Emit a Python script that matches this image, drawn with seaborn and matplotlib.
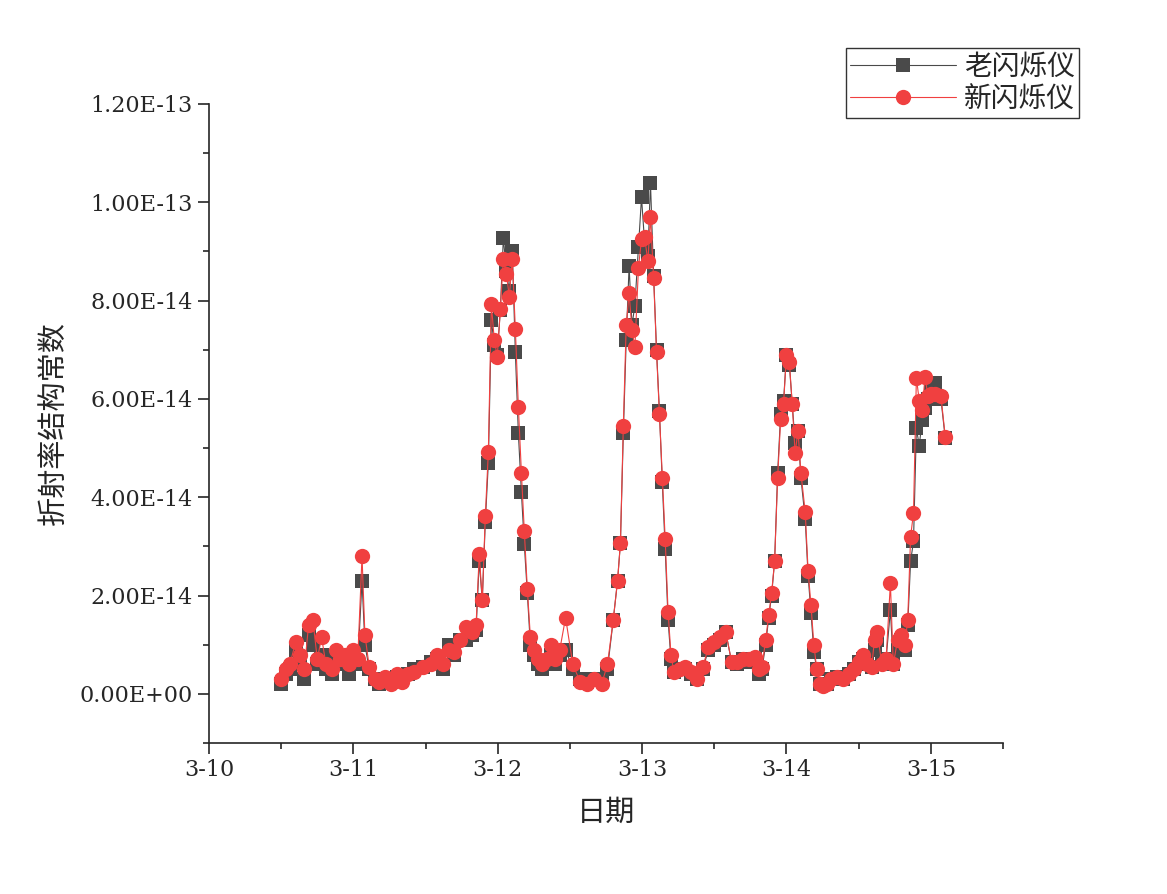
import matplotlib
matplotlib.use("Agg")
import matplotlib.pyplot as plt
import seaborn as sns
import pandas as pd
from matplotlib.ticker import MultipleLocator, FuncFormatter

# days since 3-10
days = [0.50,0.53,0.56,0.60,0.63,0.66,0.69,0.72,0.75,0.78,0.81,0.85,0.88,0.91,0.94,0.97,1.00,1.03,1.06,1.08,
        1.11,1.15,1.18,1.22,1.26,1.30,1.34,1.38,1.42,1.48,1.54,1.58,1.62,1.66,1.70,1.74,1.78,1.82,1.85,
        1.872,1.893,1.914,1.935,1.956,1.976,1.997,2.018,2.039,2.060,2.080,2.101,2.122,2.143,2.164,2.184,2.205,2.226,
        2.25,2.28,2.31,2.34,2.37,2.40,2.43,2.47,2.52,2.57,2.62,2.67,2.72,2.76,
        2.80,2.83,2.85,2.87,2.89,2.91,2.93,2.95,2.975,2.996,3.017,3.04,3.058,3.08,3.10,3.12,3.14,3.16,3.18,3.20,3.22,
        3.26,3.30,3.34,3.38,3.42,3.46,3.50,3.54,3.58,3.62,3.66,3.70,3.74,3.78,3.81,3.83,
        3.856,3.877,3.897,3.918,3.939,3.96,3.98,4.00,4.02,4.04,4.06,4.08,4.10,4.13,4.15,4.17,4.19,4.21,4.23,4.25,
        4.28,4.31,4.35,4.39,4.43,4.47,4.50,4.53,4.56,4.59,4.61,4.63,4.66,4.69,4.72,4.74,4.77,4.79,4.82,
        4.84,4.86,4.88,4.90,4.92,4.94,4.96,4.98,5.00,5.03,5.07,5.10]
old = [0.2,0.4,0.5,0.9,0.6,0.3,1.2,1.0,0.6,0.8,0.5,0.4,0.7,0.6,0.7,0.4,0.8,0.6,2.3,1.0,
       0.5,0.3,0.2,0.3,0.25,0.35,0.3,0.4,0.5,0.55,0.65,0.7,0.5,1.0,0.8,1.1,1.1,1.2,1.3,
       2.7,1.9,3.5,4.7,7.6,7.1,6.9,7.8,9.28,8.6,8.2,9.0,6.95,5.3,4.1,3.05,2.05,1.0,
       0.8,0.6,0.5,0.6,0.8,0.6,0.8,0.9,0.5,0.3,0.25,0.3,0.3,0.5,
       1.5,2.3,3.07,5.3,7.2,8.7,7.5,7.9,9.1,10.1,9.2,8.9,10.4,8.5,7.0,5.75,4.3,2.95,1.5,0.7,0.45,
       0.5,0.5,0.4,0.3,0.5,0.9,1.0,1.1,1.25,0.65,0.6,0.7,0.65,0.7,0.4,0.5,
       1.0,1.55,2.0,2.7,4.5,5.7,5.95,6.9,6.7,5.9,5.1,5.35,4.4,3.55,2.4,1.65,0.85,0.5,0.2,0.2,
       0.2,0.3,0.35,0.3,0.4,0.5,0.65,0.7,0.6,0.55,0.9,1.1,0.6,0.7,1.7,0.6,0.9,1.1,0.9,
       1.4,2.7,3.1,5.4,5.05,5.57,5.82,6.0,6.33,6.33,6.0,5.2]
new = [0.3,0.5,0.6,1.05,0.8,0.5,1.4,1.5,0.7,1.15,0.6,0.5,0.9,0.7,0.8,0.6,0.9,0.7,2.8,1.2,
       0.55,0.3,0.25,0.35,0.2,0.4,0.25,0.4,0.45,0.55,0.6,0.8,0.6,0.9,0.85,1.1,1.35,1.25,1.4,
       2.85,1.9,3.62,4.92,7.93,7.2,6.86,7.83,8.85,8.55,8.08,8.85,7.43,5.84,4.5,3.32,2.14,1.16,
       0.9,0.7,0.6,0.7,1.0,0.7,0.9,1.55,0.6,0.25,0.2,0.3,0.2,0.6,
       1.5,2.3,3.07,5.45,7.5,8.15,7.4,7.05,8.67,9.25,9.3,8.8,9.7,8.45,6.95,5.7,4.4,3.15,1.67,0.8,0.45,
       0.5,0.55,0.45,0.3,0.55,0.95,1.05,1.15,1.25,0.65,0.65,0.7,0.7,0.75,0.5,0.55,
       1.1,1.6,2.05,2.7,4.4,5.6,5.9,6.9,6.75,5.9,4.9,5.35,4.5,3.7,2.5,1.8,1.0,0.5,0.2,0.15,
       0.2,0.3,0.35,0.3,0.4,0.5,0.65,0.8,0.6,0.55,1.1,1.25,0.6,0.7,2.25,0.6,1.1,1.2,1.0,
       1.5,3.2,3.68,6.43,5.96,5.78,6.45,6.06,6.1,6.1,6.06,5.23]

xticks = [0, 1, 2, 3, 4, 5]
xticklabels = ["3-10", "3-11", "3-12", "3-13", "3-14", "3-15"]

df = pd.DataFrame({"day": days, "old": [v * 1e-14 for v in old], "new": [v * 1e-14 for v in new]})

sns.set_style("ticks")
plt.rcParams['font.family'] = ['DejaVu Serif', 'Noto Sans CJK SC']

fig = plt.figure(figsize=(11.67, 8.94), dpi=100)
ax = fig.add_axes([209/1167, 1-743/894, (1003-209)/1167, (743-104)/894])

sns.lineplot(data=df, x="day", y="old", ax=ax, color="#4a4a4a", lw=0.8, marker="s", markersize=10,
             markeredgewidth=0, label="老闪烁仪", sort=False)
sns.lineplot(data=df, x="day", y="new", ax=ax, color="#f04040", lw=0.8, marker="o", markersize=11,
             markeredgewidth=0, label="新闪烁仪", sort=False)

ax.set_xlim(0, 5.5)
ax.set_ylim(-1e-14, 1.2e-13)
ax.set_xticks(xticks)
ax.set_xticklabels(xticklabels)
ax.xaxis.set_minor_locator(MultipleLocator(0.5))
ax.yaxis.set_major_locator(MultipleLocator(2e-14))
ax.yaxis.set_minor_locator(MultipleLocator(1e-14))
ax.yaxis.set_major_formatter(FuncFormatter(lambda v, p: ("%.2E" % v).replace("E-0", "E-") if abs(v) > 1e-20 else "0.00E+00"))
ax.tick_params(which="major", direction="out", length=8, width=1.2, labelsize=16)
ax.tick_params(which="minor", direction="out", length=4, width=1.2)
for s in ["top", "right"]:
    ax.spines[s].set_visible(False)
for s in ["left", "bottom"]:
    ax.spines[s].set_linewidth(1.2)

ax.set_xlabel("日期", fontsize=21, family=['Noto Sans CJK SC'], labelpad=12)
ax.set_ylabel("折射率结构常数", fontsize=21, family=['Noto Sans CJK SC'], labelpad=8)

leg = ax.legend(loc="upper right", bbox_to_anchor=(1093/1167, 1-34/894), bbox_transform=fig.transFigure,
                prop={'family': 'Noto Sans CJK SC', 'size': 20}, frameon=True, fancybox=False,
                edgecolor="black", handlelength=3.8, borderpad=0.15, labelspacing=0.05, handletextpad=0.3)
leg.get_frame().set_linewidth(1.0)

fig.savefig("out.png", dpi=100)
